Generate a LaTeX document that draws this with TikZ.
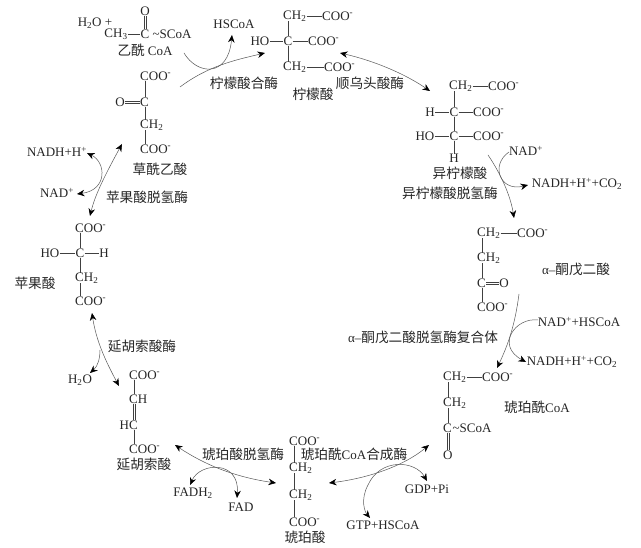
\documentclass[tikz,border=0pt]{standalone}
\usepackage{fontspec}
\setmainfont{Liberation Serif}
\newfontfamily\cjk[Scale=1.05]{Noto Sans CJK SC}
\usetikzlibrary{arrows.meta}
\newcommand{\coom}{COO\textsuperscript{-}}
\newcommand{\chtwo}{CH\textsubscript{2}}
\tikzset{
  chem/.style={inner sep=0pt,text=black!85,font=\fontsize{13}{15}\selectfont},
  atomw/.style={chem,anchor=west},
  name label/.style={inner sep=0pt,text=black!85,font=\fontsize{13}{15}\selectfont\cjk},
  bond/.style={draw=black!75,line width=0.6pt},
  flow/.style={draw=black!65,line width=0.5pt,-{Stealth[length=7.5pt,width=6.5pt,black]}},
  flow2/.style={draw=black!65,line width=0.5pt,{Stealth[length=7.5pt,width=6.5pt,black]}-{Stealth[length=7.5pt,width=6.5pt,black]}},
}
\begin{document}
\begin{tikzpicture}[x=1pt,y=-1pt]
\useasboundingbox[fill=white] (0,0) rectangle (641,548);
% acetyl CoA
\node[chem] (water) at (95,23) {H\textsubscript{2}O +};
\node[chem] (aO) at (145,11) {O};
\node[chem] (aC) at (145,34) {C};
\node[chem] (aCH3) at (116,34) {CH\textsubscript{3}};
\node[chem] (aS) at (172,34) {\char126 SCoA};
\node[name label] (aN) at (145,50) {乙酰 {\rmfamily CoA}};
\draw[bond] ([xshift=-0.9pt]aO.south) -- ([xshift=-0.9pt]aC.north);
\draw[bond] ([xshift=0.9pt]aO.south) -- ([xshift=0.9pt]aC.north);
\draw[bond] (aCH3.east) -- (aC.west);
\node[chem] (hscoa) at (234,24) {HSCoA};
% citrate
\node[atomw] (c1) at (283,16) {\chtwo};
\node[atomw] (c1b) at (322,16) {\coom};
\node[chem] (cHO) at (260,41) {HO};
\node[chem] (cC) at (288,41) {C};
\node[atomw] (c2b) at (308,41) {\coom};
\node[atomw] (c3) at (283,67) {\chtwo};
\node[atomw] (c3b) at (324,67) {\coom};
\node[name label] (cN) at (313,94) {柠檬酸};
\draw[bond] ([xshift=5pt]c1.south west) -- (cC.north);
\draw[bond] (cC.south) -- ([xshift=5pt]c3.north west);
\draw[bond] (c1.east) -- (c1b.west);
\draw[bond] (c3.east) -- (c3b.west);
\draw[bond] (cHO.east) -- (cC.west);
\draw[bond] (cC.east) -- (c2b.west);
\node[name label] (e1) at (244,83) {柠檬酸合酶};
\node[name label] (e2) at (370,83) {顺乌头酸酶};
% isocitrate
\node[atomw] (i1) at (449,86) {\chtwo};
\node[atomw] (i1b) at (488,86) {\coom};
\node[chem] (iH) at (430,112) {H};
\node[chem] (iC) at (454,112) {C};
\node[atomw] (i2b) at (473,112) {\coom};
\node[chem] (iHO) at (425,136) {HO};
\node[chem] (iC2) at (454,136) {C};
\node[atomw] (i3b) at (473,136) {\coom};
\node[chem] (iH2) at (454,158) {H};
\node[name label] (iN) at (460,173) {异柠檬酸};
\node[name label] (e3) at (450,193) {异柠檬酸脱氢酶};
\draw[bond] ([xshift=5pt]i1.south west) -- (iC.north);
\draw[bond] (iC.south) -- (iC2.north);
\draw[bond] (iC2.south) -- (iH2.north);
\draw[bond] (i1.east) -- (i1b.west);
\draw[bond] (iH.east) -- (iC.west);
\draw[bond] (iC.east) -- (i2b.west);
\draw[bond] (iHO.east) -- (iC2.west);
\draw[bond] (iC2.east) -- (i3b.west);
\node[chem] (nad1) at (526,151) {NAD\textsuperscript{+}};
\node[chem] (nadh1) at (577,184) {NADH+H\textsuperscript{+}+CO\textsubscript{2}};
% alpha-KG
\node[atomw] (k1) at (477,233) {\chtwo};
\node[atomw] (k1b) at (517,233) {\coom};
\node[atomw] (k2) at (477,258) {\chtwo};
\node[atomw] (kC) at (477,283) {C};
\node[chem] (kO) at (504,283) {O};
\node[atomw] (k4) at (477,307) {\coom};
\draw[bond] ([xshift=5pt]k1.south west) -- ([xshift=5pt]k2.north west);
\draw[bond] ([xshift=5pt]k2.south west) -- ([xshift=5pt]kC.north west);
\draw[bond] ([xshift=5pt]kC.south west) -- ([xshift=5pt]k4.north west);
\draw[bond] (k1.east) -- (k1b.west);
\draw[bond] ([yshift=-0.9pt]kC.east) -- ([yshift=-0.9pt]kO.west);
\draw[bond] ([yshift=0.9pt]kC.east) -- ([yshift=0.9pt]kO.west);
\node[name label] (kN) at (576,269) {{\rmfamily α–}酮戊二酸};
\node[name label] (e4) at (423,337) {{\rmfamily α–}酮戊二酸脱氢酶复合体};
\node[chem] (nad2) at (579,322) {NAD\textsuperscript{+}+HSCoA};
\node[chem] (nadh2) at (572,362) {NADH+H\textsuperscript{+}+CO\textsubscript{2}};
% succinyl CoA
\node[atomw] (s1) at (443,377) {\chtwo};
\node[atomw] (s1b) at (482,377) {\coom};
\node[atomw] (s2) at (443,403) {\chtwo};
\node[atomw] (sC) at (443,428) {C};
\node[chem] (sS) at (472,428) {\char126 SCoA};
\node[atomw] (sO) at (443,455) {O};
\draw[bond] ([xshift=5pt]s1.south west) -- ([xshift=5pt]s2.north west);
\draw[bond] ([xshift=5pt]s2.south west) -- ([xshift=5pt]sC.north west);
\draw[bond] ([xshift=4.1pt]sC.south west) -- ([xshift=4.1pt]sO.north west);
\draw[bond] ([xshift=5.9pt]sC.south west) -- ([xshift=5.9pt]sO.north west);
\draw[bond] (s1.east) -- (s1b.west);
\node[name label] (sN) at (537,407) {琥珀酰{\rmfamily CoA}};
% succinate
\node[atomw] (u1) at (289,441) {\coom};
\node[atomw] (u2) at (289,468) {\chtwo};
\node[atomw] (u3) at (289,495) {\chtwo};
\node[atomw] (u4) at (289,522) {\coom};
\node[name label] (uN) at (305,537) {琥珀酸};
\draw[bond] ([xshift=5pt]u1.south west) -- ([xshift=5pt]u2.north west);
\draw[bond] ([xshift=5pt]u2.south west) -- ([xshift=5pt]u3.north west);
\draw[bond] ([xshift=5pt]u3.south west) -- ([xshift=5pt]u4.north west);
\node[name label] (e5) at (354,454) {琥珀酰{\rmfamily CoA}合成酶};
\node[name label] (e6) at (243,454) {琥珀酸脱氢酶};
\node[chem] (gdp) at (427,489) {GDP+Pi};
\node[chem] (gtp) at (383,525) {GTP+HSCoA};
\node[chem] (fadh) at (193,493) {FADH\textsubscript{2}};
\node[chem] (fad) at (241,507) {FAD};
% fumarate
\node[atomw] (f1) at (129,375) {\coom};
\node[atomw] (f2) at (129,399) {CH};
\node[anchor=east,chem] (f3) at (138,425) {HC};
\node[atomw] (f4) at (129,449) {\coom};
\node[name label] (fN) at (144,464) {延胡索酸};
\draw[bond] ([xshift=5pt]f1.south west) -- ([xshift=5pt]f2.north west);
\draw[bond] ([xshift=4.1pt]f2.south west) -- ([xshift=-4.9pt]f3.north east);
\draw[bond] ([xshift=5.9pt]f2.south west) -- ([xshift=-3.1pt]f3.north east);
\draw[bond] ([xshift=-4pt]f3.south east) -- ([xshift=5pt]f4.north west);
\node[name label] (e7) at (142,346) {延胡索酸酶};
\node[chem] (h2o) at (80,380) {H\textsubscript{2}O};
% malate
\node[atomw] (m1) at (75,228) {\coom};
\node[chem] (mHO) at (50,253) {HO};
\node[chem] (mC) at (80,253) {C};
\node[chem] (mH) at (104,253) {H};
\node[atomw] (m3) at (75,278) {\chtwo};
\node[atomw] (m4) at (75,301) {\coom};
\node[name label] (mN) at (35,283) {苹果酸};
\draw[bond] ([xshift=5pt]m1.south west) -- (mC.north);
\draw[bond] (mC.south) -- ([xshift=5pt]m3.north west);
\draw[bond] ([xshift=5pt]m3.south west) -- ([xshift=5pt]m4.north west);
\draw[bond] (mHO.east) -- (mC.west);
\draw[bond] (mC.east) -- (mH.west);
\node[name label] (e8) at (147,197) {苹果酸脱氢酶};
\node[chem] (nadh3) at (57,152) {NADH+H\textsuperscript{+}};
\node[chem] (nad3) at (57,193) {NAD\textsuperscript{+}};
% oxaloacetate
\node[atomw] (o1) at (140,76) {\coom};
\node[chem] (oO) at (120,102) {O};
\node[atomw] (oC) at (140,102) {C};
\node[atomw] (o3) at (140,125) {\chtwo};
\node[atomw] (o4) at (140,149) {\coom};
\node[name label] (oN) at (160,169) {草酰乙酸};
\draw[bond] ([xshift=5pt]o1.south west) -- ([xshift=5pt]oC.north west);
\draw[bond] ([xshift=5pt]oC.south west) -- ([xshift=5pt]o3.north west);
\draw[bond] ([xshift=5pt]o3.south west) -- ([xshift=5pt]o4.north west);
\draw[bond] ([yshift=-0.9pt]oO.east) -- ([yshift=-0.9pt]oC.west);
\draw[bond] ([yshift=0.9pt]oO.east) -- ([yshift=0.9pt]oC.west);
% free ends of the curved arrows
\coordinate (p1) at (184,53);
\coordinate (p2) at (232,35);
\coordinate (p3) at (180,87);
\coordinate (p4) at (265,53);
\coordinate (p5) at (340,53);
\coordinate (p6) at (430,91);
\coordinate (p7) at (509,152);
\coordinate (p8) at (528,185);
\coordinate (p9) at (488,155);
\coordinate (p10) at (514,218);
\coordinate (p11) at (519,294);
\coordinate (p12) at (497,368);
\coordinate (p13) at (538,320);
\coordinate (p14) at (526,362);
\coordinate (p15) at (429,445);
\coordinate (p16) at (329,483);
\coordinate (p17) at (427,481);
\coordinate (p18) at (370,518);
\coordinate (p19) at (276,483);
\coordinate (p20) at (175,445);
\coordinate (p21) at (190,485);
\coordinate (p22) at (237,498);
\coordinate (p23) at (92,313);
\coordinate (p24) at (119,386);
\coordinate (p25) at (100,350);
\coordinate (p26) at (90,373);
\coordinate (p27) at (90,216);
\coordinate (p28) at (122,144);
\coordinate (p29) at (87,153);
\coordinate (p30) at (77,194);
% curved arrows
\draw[flow] (p1) .. controls (197,75) and (228,78) .. (p2);
\draw[flow] (p3) .. controls (208,66) and (235,60) .. (p4);
\draw[flow2] (p5) .. controls (375,61) and (405,74) .. (p6);
\draw[flow] (p7) .. controls (490,165) and (500,192) .. (p8);
\draw[flow] (p9) .. controls (497,168) and (510,192) .. (p10);
\draw[flow] (p11) .. controls (515,325) and (508,345) .. (p12);
\draw[flow] (p13) .. controls (516,317) and (495,345) .. (p14);
\draw[flow2] (p15) .. controls (405,465) and (370,478) .. (p16);
\draw[flow2] (p17) .. controls (415,460) and (380,458) .. (368,485) .. controls (360,500) and (365,512) .. (p18);
\draw[flow2] (p19) .. controls (235,477) and (205,465) .. (p20);
\draw[flow2] (p21) .. controls (200,462) and (240,460) .. (p22);
\draw[flow2] (p23) .. controls (96,340) and (105,360) .. (p24);
\draw[flow] (p25) .. controls (100,358) and (98,366) .. (p26);
\draw[flow2] (p27) .. controls (95,195) and (105,175) .. (p28);
\draw[flow2] (p29) .. controls (106,162) and (108,190) .. (p30);
\end{tikzpicture}
\end{document}
